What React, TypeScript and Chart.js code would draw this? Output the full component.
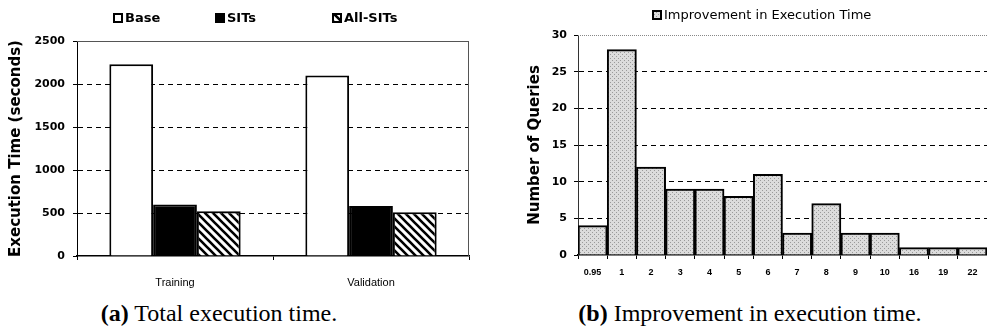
import React, { useEffect, useRef } from "react";
import { Chart, registerables } from "chart.js";

Chart.register(...registerables);

// ---- Data: chart (a) ----
const groups = ["Training", "Validation"];
const baseLabel = "Base";
const sitsLabel = "SITs";
const allSitsLabel = "All-SITs";
const baseTimes = [2230, 2100];
const sitsTimes = [600, 580];
const allSitsTimes = [520, 510];
const timeMax = 2500;
const timeStep = 500;

// ---- Data: chart (b) ----
const ratioBins = ["0.95", "1", "2", "3", "4", "5", "6", "7", "8", "9", "10", "16", "19", "22"];
const queryCounts = [4, 28, 12, 9, 9, 8, 11, 3, 7, 3, 3, 1, 1, 1];
const improvementLabel = "Improvement in Execution Time";
const countMax = 30;
const countStep = 5;

const BOLD = "'DejaVu Sans', sans-serif";

function hatchPattern(): CanvasPattern {
  const c = document.createElement("canvas");
  c.width = 8;
  c.height = 8;
  const g = c.getContext("2d")!;
  g.fillStyle = "#ffffff";
  g.fillRect(0, 0, 8, 8);
  g.strokeStyle = "#000000";
  g.lineWidth = 2.6;
  g.beginPath();
  g.moveTo(-2, -2);
  g.lineTo(10, 10);
  g.moveTo(-6, 2);
  g.lineTo(6, 14);
  g.moveTo(2, -6);
  g.lineTo(14, 6);
  g.stroke();
  return g.createPattern(c, "repeat")!;
}

function stipplePattern(): CanvasPattern {
  const c = document.createElement("canvas");
  c.width = 4;
  c.height = 4;
  const g = c.getContext("2d")!;
  g.fillStyle = "#dcdcdc";
  g.fillRect(0, 0, 4, 4);
  g.fillStyle = "#9a9a9a";
  g.fillRect(0, 0, 1, 1);
  g.fillRect(2, 2, 1, 1);
  return g.createPattern(c, "repeat")!;
}

function legendPlugin(starts: number[], centerY: number, font: string) {
  return {
    id: "manualLegend",
    afterDraw(chart: any) {
      const ctx = chart.ctx as CanvasRenderingContext2D;
      ctx.save();
      chart.data.datasets.forEach((ds: any, i: number) => {
        const x = starts[i];
        ctx.fillStyle = ds.backgroundColor;
        ctx.fillRect(x, centerY - 5, 10, 10);
        ctx.lineWidth = 2;
        ctx.strokeStyle = "#000";
        ctx.strokeRect(x + 1, centerY - 4, 8, 8);
        ctx.fillStyle = "#000";
        ctx.font = font;
        ctx.textBaseline = "middle";
        ctx.textAlign = "left";
        ctx.fillText(ds.label, x + 12, centerY + 1);
      });
      ctx.restore();
    },
  };
}

function framePlugin(drawRight: boolean, color: string, dashed: boolean) {
  return {
    id: "frame",
    afterDatasetsDraw(chart: any) {
      const { ctx, chartArea } = chart;
      ctx.save();
      ctx.strokeStyle = color;
      ctx.lineWidth = 1;
      if (dashed) ctx.setLineDash([1, 1]);
      ctx.beginPath();
      ctx.moveTo(chartArea.left, chartArea.top + 0.5);
      ctx.lineTo(chartArea.right, chartArea.top + 0.5);
      ctx.stroke();
      if (drawRight) {
        ctx.beginPath();
        ctx.moveTo(chartArea.right - 0.5, chartArea.top);
        ctx.lineTo(chartArea.right - 0.5, chartArea.bottom);
        ctx.stroke();
      }
      ctx.restore();
    },
  };
}

const gridColor = (max: number) => (ctx: any) =>
  ctx.tick && (ctx.tick.value === 0 || ctx.tick.value === max) ? "rgba(0,0,0,0)" : "#000";

const plainNumber = (v: any) => String(v);

export default function App() {
  const ref1 = useRef<HTMLCanvasElement>(null);
  const ref2 = useRef<HTMLCanvasElement>(null);

  useEffect(() => {
    const hatch = hatchPattern();
    const stipple = stipplePattern();

    const c1 = new Chart(ref1.current!, {
      type: "bar",
      data: {
        labels: groups,
        datasets: [
          { label: baseLabel, data: baseTimes, backgroundColor: "#ffffff", borderColor: "#000", borderWidth: 2 },
          { label: sitsLabel, data: sitsTimes, backgroundColor: "#000000", borderColor: "#000", borderWidth: 2 },
          { label: allSitsLabel, data: allSitsTimes, backgroundColor: hatch as any, borderColor: "#000", borderWidth: 2 },
        ],
      },
      options: {
        responsive: false,
        animation: false,
        datasets: { bar: { categoryPercentage: 0.67, barPercentage: 1.0 } },
        layout: { padding: { top: 41, right: 11, left: 0, bottom: 0 } },
        plugins: { legend: { display: false }, tooltip: { enabled: false } },
        scales: {
          x: {
            grid: { offset: true, drawOnChartArea: false, drawTicks: true, tickLength: 4, tickColor: "#000" },
            border: { display: true, color: "#000", width: 1.5 },
            ticks: { color: "#000", padding: 16, font: { family: "'Liberation Sans', Arial, sans-serif", size: 11 } },
            afterFit: (s: any) => { s.height = 44; },
          },
          y: {
            min: 0,
            max: timeMax,
            ticks: { stepSize: timeStep, callback: plainNumber, color: "#000", padding: 8, font: { family: BOLD, size: 11, weight: "bold" } },
            grid: { color: gridColor(timeMax), lineWidth: 1, tickLength: 4, tickColor: "#000", tickWidth: 1 },
            border: { display: true, color: "#000", width: 1, dash: [5, 4] },
            title: {
              display: true,
              text: "Execution Time (seconds)",
              color: "#000",
              padding: { top: 7, bottom: 0 },
              font: { family: BOLD, size: 15, weight: "bold" },
            },
            afterFit: (s: any) => { s.width = 77; },
          },
        },
      },
      plugins: [legendPlugin([113, 215, 332], 18, `bold 13px ${BOLD}`), framePlugin(true, "#555", false)],
    } as any);

    const c2 = new Chart(ref2.current!, {
      type: "bar",
      data: {
        labels: ratioBins,
        datasets: [
          { label: improvementLabel, data: queryCounts, backgroundColor: stipple as any, borderColor: "#000", borderWidth: 2 },
        ],
      },
      options: {
        responsive: false,
        animation: false,
        datasets: { bar: { categoryPercentage: 1.0, barPercentage: 1.0 } },
        layout: { padding: { top: 35, right: 0, left: 0, bottom: 0 } },
        plugins: { legend: { display: false }, tooltip: { enabled: false } },
        scales: {
          x: {
            grid: { offset: true, drawOnChartArea: false, drawTicks: true, tickLength: 4, tickColor: "#000" },
            border: { display: true, color: "#000", width: 1.5 },
            ticks: { color: "#000", padding: 8, autoSkip: false, maxRotation: 0, font: { family: "'Liberation Sans', Arial, sans-serif", size: 9, weight: "bold" } },
            afterFit: (s: any) => { s.height = 45; },
          },
          y: {
            min: 0,
            max: countMax,
            ticks: { stepSize: countStep, callback: plainNumber, color: "#000", padding: 7, font: { family: BOLD, size: 11, weight: "bold" } },
            grid: { color: gridColor(countMax), lineWidth: 1, tickLength: 4, tickColor: "#000", tickWidth: 1 },
            border: { display: true, color: "#333", width: 1, dash: [5, 4] },
            title: {
              display: true,
              text: "Number of Queries",
              color: "#000",
              padding: { top: 46, bottom: 0 },
              font: { family: BOLD, size: 15, weight: "bold" },
            },
            afterFit: (s: any) => { s.width = 98; },
          },
        },
      },
      plugins: [legendPlugin([172], 15, `13px ${BOLD}`), framePlugin(false, "#888", true)],
    } as any);

    return () => {
      c1.destroy();
      c2.destroy();
    };
  }, []);

  const capStyle: React.CSSProperties = {
    position: "absolute",
    top: 300,
    textAlign: "center",
    fontFamily: "'Liberation Serif', 'Times New Roman', serif",
    fontSize: 24,
    lineHeight: "26px",
    color: "#000",
    whiteSpace: "nowrap",
  };

  return (
    <div style={{ position: "absolute", left: 0, top: 0, width: 987, height: 333, background: "#fff", overflow: "hidden" }}>
      <canvas ref={ref1} width={480} height={300} style={{ position: "absolute", left: 0, top: 0 }} />
      <canvas ref={ref2} width={507} height={300} style={{ position: "absolute", left: 480, top: 0 }} />
      <div style={{ ...capStyle, left: 0, width: 438 }}>
        <b>(a)</b> Total execution time.
      </div>
      <div style={{ ...capStyle, left: 500, width: 500 }}>
        <b>(b)</b> Improvement in execution time.
      </div>
    </div>
  );
}
